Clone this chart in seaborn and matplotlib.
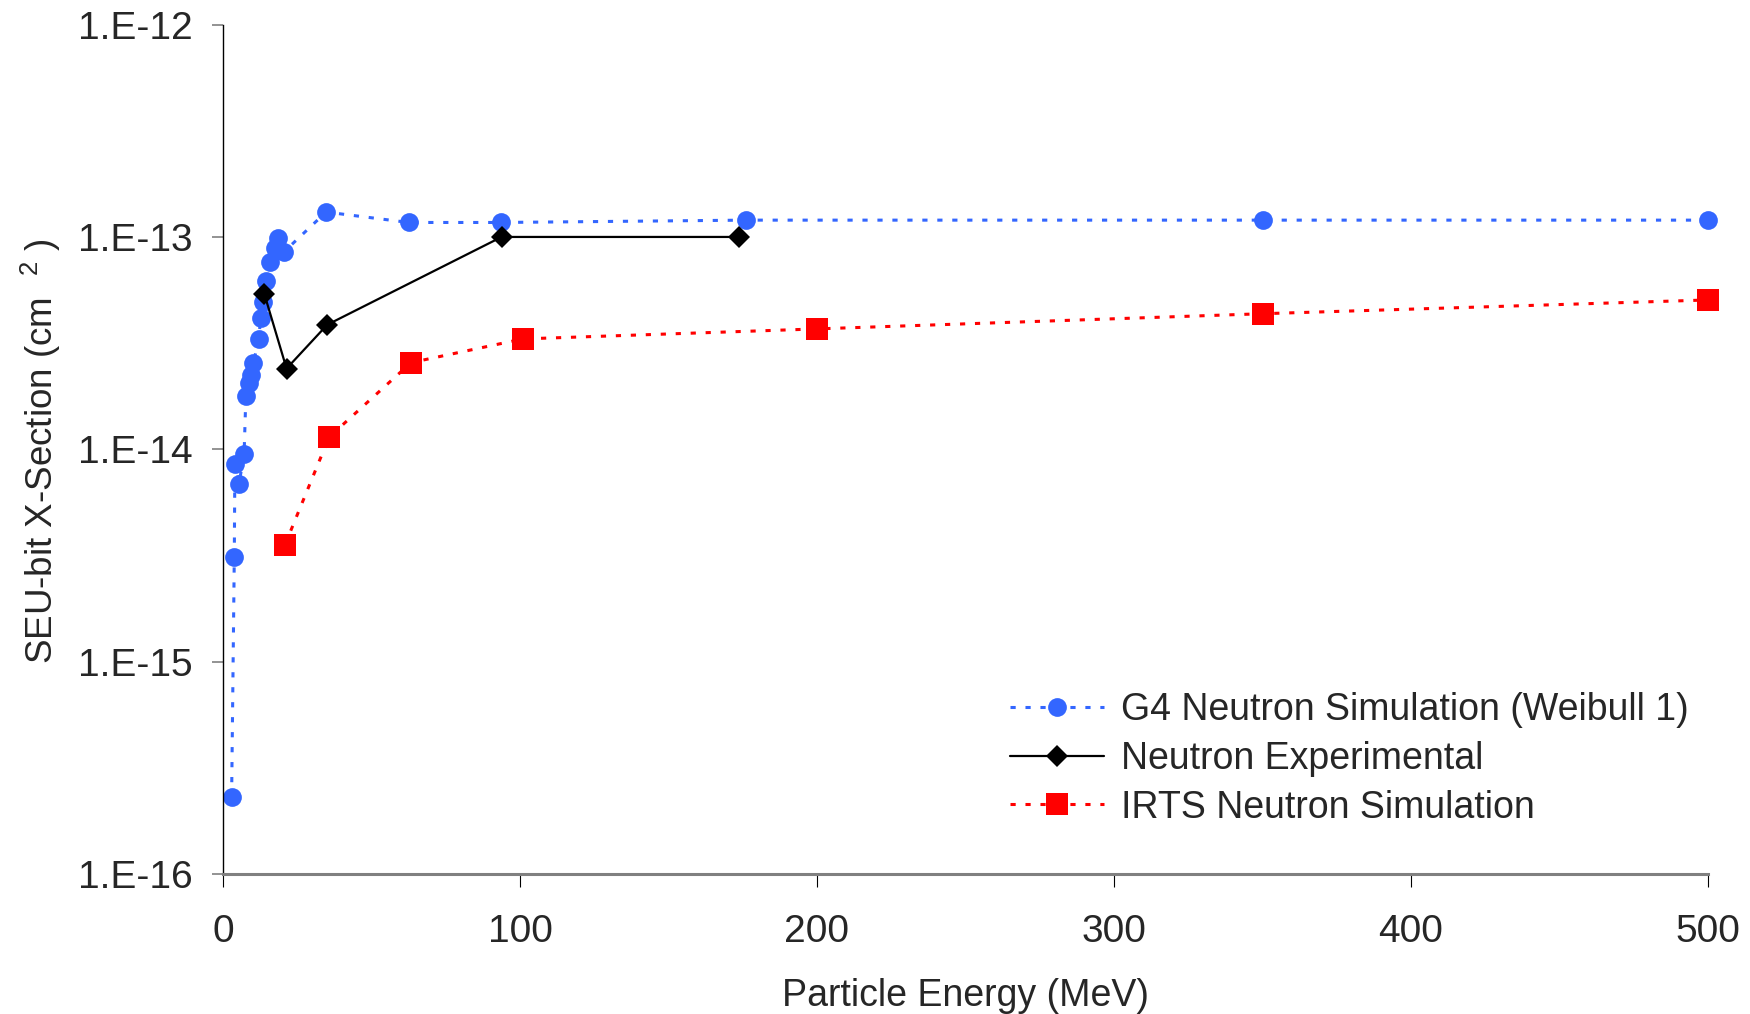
import matplotlib
matplotlib.use("Agg")
import matplotlib.pyplot as plt
import pandas as pd
import seaborn as sns

# G4 neutron simulation (Weibull 1)
g4_energy = [2.9, 3.8, 4.0, 5.4, 7.1, 7.7, 8.9, 9.3, 10.2, 12.0, 12.7, 13.6,
             14.4, 15.8, 17.5, 18.4, 20.5, 34.7, 62.5, 93.5, 176, 350, 500]
g4_xsec = [2.3e-16, 3.1e-15, 8.5e-15, 6.9e-15, 9.5e-15, 1.78e-14, 2.05e-14,
           2.24e-14, 2.54e-14, 3.3e-14, 4.14e-14, 4.95e-14, 6.2e-14, 7.6e-14,
           8.85e-14, 9.9e-14, 8.5e-14, 1.31e-13, 1.17e-13, 1.17e-13, 1.2e-13,
           1.2e-13, 1.2e-13]

# Neutron experimental
exp_energy = [13.9, 21.4, 35.1, 93.8, 173.8]
exp_xsec = [5.4e-14, 2.4e-14, 3.86e-14, 1.0e-13, 1.0e-13]

# IRTS neutron simulation
irts_energy = [20.9, 35.7, 63.3, 101, 200, 350, 500]
irts_xsec = [3.56e-15, 1.14e-14, 2.56e-14, 3.31e-14, 3.69e-14, 4.35e-14, 5.05e-14]

x_ticks = [0, 100, 200, 300, 400, 500]
y_ticks = [1e-16, 1e-15, 1e-14, 1e-13, 1e-12]
y_tick_labels = ["1.E-16", "1.E-15", "1.E-14", "1.E-13", "1.E-12"]

sns.set_style("white")
plt.rcParams["font.family"] = ["Liberation Sans", "DejaVu Sans"]
plt.rcParams["mathtext.fontset"] = "custom"
plt.rcParams["mathtext.rm"] = "Liberation Sans"

fig = plt.figure(figsize=(17.5, 10.14), dpi=100)
ax = fig.add_axes([223 / 1750, 1 - 874 / 1014, (1708 - 223) / 1750, (874 - 24.6) / 1014])

blue = "#3366FF"
red = "#FF0000"
dot = (0, (1.7, 3.2))

g4 = pd.DataFrame({"energy": g4_energy, "xsec": g4_xsec})
exp = pd.DataFrame({"energy": exp_energy, "xsec": exp_xsec})
irts = pd.DataFrame({"energy": irts_energy, "xsec": irts_xsec})

sns.lineplot(data=g4, x="energy", y="xsec", ax=ax, color=blue, linewidth=2.2,
             linestyle=dot, marker="o", markersize=13.5, markeredgewidth=0,
             markerfacecolor=blue, errorbar=None, clip_on=False,
             label="G4 Neutron Simulation (Weibull 1)")
sns.lineplot(data=exp, x="energy", y="xsec", ax=ax, color="black", linewidth=1.6,
             linestyle="-", marker="D", markersize=11.5, markeredgewidth=0,
             markerfacecolor="black", errorbar=None, clip_on=False,
             label="Neutron Experimental")
sns.lineplot(data=irts, x="energy", y="xsec", ax=ax, color=red, linewidth=2.2,
             linestyle=dot, marker="s", markersize=15.5, markeredgewidth=0,
             markerfacecolor=red, errorbar=None, clip_on=False,
             label="IRTS Neutron Simulation")

ax.set_yscale("log")
ax.set_xlim(0, 500)
ax.set_ylim(1e-16, 1e-12)
ax.set_xticks(x_ticks)
ax.set_xticklabels([str(v) for v in x_ticks])
ax.set_yticks(y_ticks)
ax.set_yticklabels(y_tick_labels)
ax.yaxis.set_minor_locator(matplotlib.ticker.NullLocator())
ax.grid(False)

for side in ("top", "right"):
    ax.spines[side].set_visible(False)
ax.spines["left"].set_color("black")
ax.spines["left"].set_linewidth(1.0)
ax.spines["bottom"].set_color("#808080")
ax.spines["bottom"].set_linewidth(2.2)

ax.tick_params(axis="y", which="major", direction="out", length=8, width=1.2,
               color="#808080", labelsize=28, pad=14, left=True)
ax.tick_params(axis="x", which="major", direction="out", length=9, width=0.8,
               color="black", labelsize=28, pad=20, bottom=True)

ax.set_xlabel("")
ax.set_ylabel("")
fig.text((223 + 1708) / 2 / 1750, 1 - 996 / 1014, "Particle Energy (MeV)",
         ha="center", va="center", fontsize=27)
fig.text(41 / 1750, 1 - 451 / 1014, "SEU-bit X-Section (cm  $^{2}$ )",
         ha="center", va="center", rotation=90, fontsize=26.5)

ax.legend(loc="upper left", bbox_to_anchor=(1010 / 1750, 1 - 692 / 1014),
          bbox_transform=fig.transFigure, frameon=False, fontsize=27,
          handlelength=2.5, handletextpad=0.45, labelspacing=0.34,
          borderpad=0, borderaxespad=0, numpoints=1)

fig.savefig("out.png", dpi=100)
